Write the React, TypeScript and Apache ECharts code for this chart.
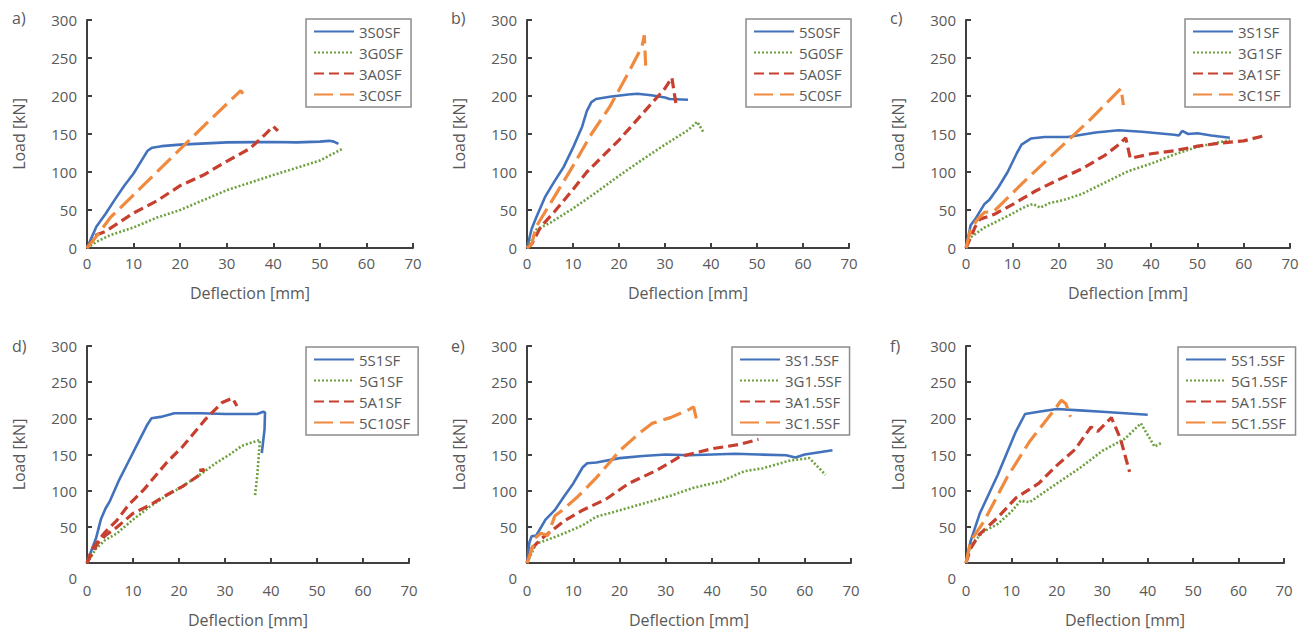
import React, { useEffect, useRef } from 'react';
import * as echarts from 'echarts';

// ---------- tick labels / axes ----------
const xTicks = [0, 10, 20, 30, 40, 50, 60, 70];
const yTicks = [0, 50, 100, 150, 200, 250, 300];
const panelLabels = ['a)', 'b)', 'c)', 'd)', 'e)', 'f)'];
const xName = 'Deflection [mm]';
const yName = 'Load [kN]';

// ---------- a) ----------
const s3S0SF = [[0,0],[1,14],[2,28],[4,45],[6,64],[8,82],[10,98],[12,118],[13,128],[14,132],[16,134],[20,136],[30,139],[40,139.5],[45,139],[50,140],[52,141],[53,140],[54,137]];
const s3G0SF = [[0,0],[2,8],[5,17],[10,27],[15,40],[20,50],[30,76],[40,96],[50,115],[55,131]];
const s3A0SF = [[0,0],[2,17],[4,22],[10,46],[15,62],[20,82],[25,96],[30,114],[35,131],[38,148],[40,160],[41,154]];
const s3C0SF = [[0,0],[2,15],[5,40],[10,70],[20,130],[26,166],[33,207],[33.5,203]];
// ---------- b) ----------
const s5S0SF = [[0,0],[1,25],[2,40],[4,68],[6,88],[8,107],[10,132],[12,160],[13,180],[14,192],[15,196],[18,199],[22,202],[24,203],[27,201],[30,198],[31,196],[35,195]];
const s5G0SF = [[0,0],[1,10],[2,24],[5,33],[10,52],[15,73],[20,95],[25,116],[30,136],[35,155],[37,166],[38.5,151]];
const s5A0SF = [[0,0],[1,5],[3,28],[6,48],[10,77],[13,100],[20,142],[25,176],[30,210],[31.5,224],[32.5,185]];
const s5C0SF = [[0,0],[1,5],[2,28],[6,68],[10,108],[14,150],[18,186],[22,230],[25,265],[25.5,280],[25.8,240]];
// ---------- c) ----------
const s3S1SF = [[0,0],[1,30],[2,38],[4,58],[5,63],[7,80],[9,100],[11,125],[12,136],[14,144],[17,146],[22,146],[28,152],[33,155],[38,153],[45,149],[46,148],[46.7,154],[48,150],[50,151],[53,148],[57,145]];
const s3G1SF = [[0,0],[1,14],[4,27],[9,42],[13,55],[14.5,58],[16,53],[18,59],[21,63],[25,71],[29,83],[35,101],[40,111],[45,123],[50,133],[57,142]];
const s3A1SF = [[0,0],[2,28],[3,38],[6,44],[10,57],[15,75],[20,90],[25,104],[30,122],[33,136],[34.5,145],[35.5,118],[40,124],[45,128],[50,134],[55,138],[60,141],[64,147]];
const s3C1SF = [[0,0],[1,24],[2.5,38],[4,47],[6,48],[8,60],[13,90],[20,130],[27,170],[33.5,210],[34,188]];
// ---------- d) ----------
const s5S1SF = [[0,0],[1,18],[2,35],[3,60],[4,75],[5,86],[7,115],[9,140],[11,165],[13,190],[14,200],[16,202],[19,207],[25,207],[30,206],[37,206],[38.3,209],[38.7,208],[38.6,185],[38,152]];
const s5G1SF = [[0,0],[2,20],[4,32],[6.5,41],[10,60],[13.7,78],[17,92],[20.8,106],[25,124],[28,138],[31,150],[33.7,162],[36,167],[37.6,170],[37,120],[36.5,92]];
const s5A1SF = [[0,0],[1,18],[3.7,41],[6.5,59],[9,80],[12.3,101],[17.2,138],[20.8,161],[25.8,199],[29.4,222],[31.6,228],[32.6,217]];
const s5A1SFb = [[0,0],[1,12],[2.3,27],[4,38],[6.6,50],[10.1,69],[13.7,80],[17.3,94],[20.8,106],[24.1,120],[25.5,129],[24.4,128]];
const s5C10SF: number[][] = [];
// ---------- e) ----------
const s3S15SF = [[0,0],[0.5,28],[1,37],[2,38],[4,60],[6,73],[8,92],[10,110],[12,132],[13,138],[15,139],[20,145],[25,148],[30,150],[35,149],[40,150],[45,151],[50,150],[56,149],[58,146],[60,150],[66,156]];
const s3G15SF = [[0,0],[2,27],[4,31],[8,41],[12,52],[15,64],[19,71],[25,82],[31,93],[36,104],[42,113],[47,127],[51,131],[57,142],[61,145],[64.5,122]];
const s3A15SF = [[0,0],[1,20],[3,33],[5,43],[8,58],[12,73],[17,88],[22,110],[28,128],[33,147],[40,158],[46,164],[50,171]];
const s3C15SF = [[0,0],[2,36],[3,41],[4.5,38],[6,65],[8,75],[11,92],[15,118],[20,155],[24,178],[27,193],[31,201],[35,212],[36,216],[36.7,196]];
// ---------- f) ----------
const s5S15SF = [[0,0],[1,30],[3,68],[5,95],[7,122],[9,152],[11,182],[13,206],[16,209],[20,213],[25,211],[30,209],[35,207],[40,205]];
const s5G15SF = [[0,0],[1,25],[4,44],[7,54],[10,71],[12,86],[14,84],[20,110],[25,131],[30,155],[35,172],[38.5,193],[41.5,161],[43,166]];
const s5A15SF = [[0,0],[1,20],[3,40],[7,63],[11,90],[16,110],[20,135],[24,157],[27.5,188],[29,182],[32,201],[34,172],[36,126]];
const s5C15SF = [[0,0],[1,30],[4,58],[9,118],[14,168],[19,208],[21,225],[22,220],[23,202]];

const panelSeries: [string, number[][], number][][] = [
  [['3S0SF', s3S0SF, 0], ['3G0SF', s3G0SF, 1], ['3A0SF', s3A0SF, 2], ['3C0SF', s3C0SF, 3]],
  [['5S0SF', s5S0SF, 0], ['5G0SF', s5G0SF, 1], ['5A0SF', s5A0SF, 2], ['5C0SF', s5C0SF, 3]],
  [['3S1SF', s3S1SF, 0], ['3G1SF', s3G1SF, 1], ['3A1SF', s3A1SF, 2], ['3C1SF', s3C1SF, 3]],
  [['5S1SF', s5S1SF, 0], ['5G1SF', s5G1SF, 1], ['5A1SF', s5A1SF, 2], ['5A1SF', s5A1SFb, 2], ['5C10SF', s5C10SF, 3]],
  [['3S1.5SF', s3S15SF, 0], ['3G1.5SF', s3G15SF, 1], ['3A1.5SF', s3A15SF, 2], ['3C1.5SF', s3C15SF, 3]],
  [['5S1.5SF', s5S15SF, 0], ['5G1.5SF', s5G15SF, 1], ['5A1.5SF', s5A15SF, 2], ['5C1.5SF', s5C15SF, 3]],
];
const legendNames = [
  ['3S0SF', '3G0SF', '3A0SF', '3C0SF'],
  ['5S0SF', '5G0SF', '5A0SF', '5C0SF'],
  ['3S1SF', '3G1SF', '3A1SF', '3C1SF'],
  ['5S1SF', '5G1SF', '5A1SF', '5C10SF'],
  ['3S1.5SF', '3G1.5SF', '3A1.5SF', '3C1.5SF'],
  ['5S1.5SF', '5G1.5SF', '5A1.5SF', '5C1.5SF'],
];

const FONT = 'Open Sans';
const TXT = '#595959';
const AX = '#404040';

const styles = [
  { color: '#4372bd', width: 2.6, type: 'solid' as any },
  { color: '#6fa03f', width: 2.6, type: [2, 2] as any },
  { color: '#c7402f', width: 3.2, type: [10, 5] as any },
  { color: '#f08a3e', width: 3.2, type: [19, 7] as any },
];

// layout: [left, top, width, height], legend [left, top]
const grids = [
  [87, 20, 326, 228], [527, 20, 322, 228], [966, 20, 324, 228],
  [87, 346, 322, 217], [527, 346, 324, 217], [966, 346, 318, 217],
];
const legendPos = [[306, 19], [746, 19], [1185, 19], [306, 347], [732, 347], [1178, 347]];
const labelPos = [[12, 10], [451, 10], [890, 10], [12, 338], [451, 338], [890, 338]];

function buildOption() {
  const grid: any[] = [];
  const xAxis: any[] = [];
  const yAxis: any[] = [];
  const legend: any[] = [];
  const series: any[] = [];
  const graphic: any[] = [];
  grids.forEach((g, i) => {
    const bottomRow = i >= 3;
    grid.push({ left: g[0], top: g[1], width: g[2], height: g[3], containLabel: false });
    xAxis.push({
      type: 'value', gridIndex: i, min: xTicks[0], max: xTicks[xTicks.length - 1], interval: 10,
      name: xName, nameLocation: 'middle', nameGap: bottomRow ? 49 : 37,
      nameTextStyle: { fontFamily: FONT, fontSize: 16, color: TXT },
      axisLine: { show: true, onZero: false, lineStyle: { color: AX, width: 2 } },
      axisTick: { show: true, inside: true, length: 5, lineStyle: { color: AX, width: 2 } },
      axisLabel: { fontFamily: FONT, fontSize: 15, color: TXT, margin: bottomRow ? 19 : 7 },
      splitLine: { show: false },
    });
    yAxis.push({
      type: 'value', gridIndex: i, min: yTicks[0], max: yTicks[yTicks.length - 1], interval: 50,
      name: yName, nameLocation: 'middle', nameGap: 60,
      nameTextStyle: { fontFamily: FONT, fontSize: 16, color: TXT },
      axisLine: { show: true, lineStyle: { color: AX, width: 2 } },
      axisTick: { show: true, inside: true, length: 5, lineStyle: { color: AX, width: 2 } },
      axisLabel: {
        fontFamily: FONT, fontSize: 15, color: TXT, margin: 10,
        formatter: bottomRow ? (v: number) => (v === 0 ? '{z|0}' : String(v)) : undefined,
        rich: bottomRow ? { z: { fontFamily: FONT, fontSize: 15, color: TXT, padding: [30, 0, 0, 0] } } : undefined,
      },
      splitLine: { show: false },
    });
    legend.push({
      data: legendNames[i], orient: 'vertical', left: legendPos[i][0], top: legendPos[i][1],
      padding: [5, 8, 5, 7], itemGap: 6, itemWidth: 40, itemHeight: 15,
      borderColor: '#8c8c8c', borderWidth: 1.5, borderRadius: 0,
      itemStyle: { opacity: 0 },
      textStyle: { fontFamily: FONT, fontSize: 15, color: TXT, lineHeight: 15 },
      selectedMode: false,
    });
    panelSeries[i].forEach(([name, data, si]) => {
      const st = styles[si];
      series.push({
        type: 'line', name, xAxisIndex: i, yAxisIndex: i, data,
        symbol: 'none', showSymbol: false, smooth: false,
        lineStyle: { color: st.color, width: st.width, type: st.type, cap: 'butt' },
        itemStyle: { color: st.color },
        emphasis: { disabled: true },
      });
    });
    graphic.push({
      type: 'text', left: labelPos[i][0], top: labelPos[i][1],
      style: { text: panelLabels[i], fontFamily: FONT, fontSize: 16, fill: TXT },
    });
  });
  return { animation: false, backgroundColor: '#ffffff', grid, xAxis, yAxis, legend, series, graphic };
}

export default function App() {
  const ref = useRef<HTMLDivElement>(null);
  useEffect(() => {
    if (!ref.current) return;
    const chart = echarts.init(ref.current, undefined, { renderer: 'svg' });
    chart.setOption(buildOption() as any);
    return () => chart.dispose();
  }, []);
  return (
    <div
      ref={ref}
      style={{ position: 'fixed', left: 0, top: 0, width: 1307, height: 633, background: '#fff' }}
    />
  );
}
